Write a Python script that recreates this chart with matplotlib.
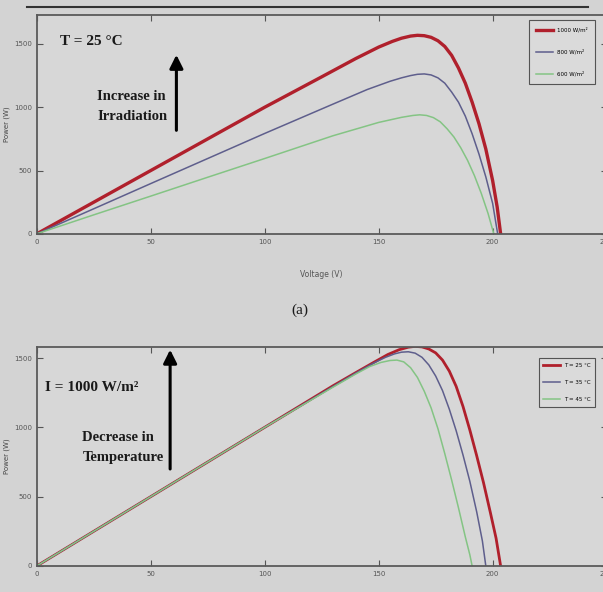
import matplotlib.pyplot as plt
from matplotlib.lines import Line2D

# (a) irradiation sweep at T = 25 C, voltage (V) and power (W) points
v_1000 = [0, 25, 50, 75, 100, 125, 140, 150, 156, 160, 164, 167, 170, 173, 176, 179, 182,
          185, 188, 191, 194, 197, 200, 202, 203.5]
p_1000 = [0, 250, 500, 750, 1000, 1240, 1385, 1475, 1520, 1545, 1562, 1568, 1565, 1552, 1525,
          1480, 1410, 1310, 1190, 1040, 870, 670, 420, 210, 0]
v_800 = [0, 25, 50, 75, 100, 130, 145, 155, 160, 164, 167, 170, 173, 176, 179, 182, 185,
         188, 191, 194, 197, 200, 202.2]
p_800 = [0, 198, 397, 595, 793, 1025, 1140, 1205, 1232, 1250, 1260, 1263, 1255, 1232, 1190,
         1120, 1040, 930, 790, 630, 450, 240, 0]
v_600 = [0, 25, 50, 75, 100, 130, 150, 160, 165, 168, 171, 174, 177, 180, 183, 186, 189,
         192, 195, 198, 200.5]
p_600 = [0, 150, 298, 447, 595, 775, 880, 920, 935, 940, 935, 918, 885, 830, 765, 680, 580,
         460, 320, 160, 0]

# (b) temperature sweep at I = 1000 W/m2
v_25 = [0, 50, 100, 130, 140, 148, 154, 159, 163, 166, 169, 172, 175, 178, 181, 184, 187,
        190, 193, 196, 199, 201.5, 203.5]
p_25 = [0, 500, 1000, 1300, 1395, 1470, 1525, 1560, 1578, 1584, 1580, 1565, 1537, 1485, 1405,
        1295, 1150, 980, 795, 600, 385, 200, 0]
v_35 = [0, 50, 100, 130, 140, 148, 153, 157, 160, 163, 166, 169, 172, 175, 178, 181, 184,
        187, 190, 193, 195.5, 197]
p_35 = [0, 500, 1000, 1295, 1392, 1465, 1505, 1530, 1542, 1545, 1535, 1505, 1450, 1370, 1265,
        1130, 975, 800, 610, 390, 180, 0]
v_45 = [0, 50, 100, 130, 140, 146, 151, 155, 158, 161, 164, 167, 170, 173, 176, 179, 182,
        185, 188, 190, 191]
p_45 = [0, 500, 1000, 1290, 1385, 1438, 1468, 1482, 1485, 1472, 1430, 1360, 1260, 1140, 990,
        810, 620, 420, 210, 80, 0]

labels_a = ['1000 W/m\u00b2', '800 W/m\u00b2', '600 W/m\u00b2']
labels_b = ['T = 25 \u00b0C', 'T = 35 \u00b0C', 'T = 45 \u00b0C']

red = '#b0202c'
blue = '#5e5e8c'
green = '#84c484'
bg = '#d3d3d3'
serif = 'Liberation Serif'

fig = plt.figure(figsize=(6.03, 5.92), dpi=100, facecolor=bg)
ax1 = fig.add_axes([0.061, 0.605, 0.945, 0.370])
ax2 = fig.add_axes([0.061, 0.044, 0.945, 0.370])


def style_axes(ax, ytop):
    ax.set_facecolor('#d7d7d7')
    ax.set_xlim(0, 250)
    ax.set_ylim(0, ytop)
    ax.set_xticks([0, 50, 100, 150, 200, 250])
    ax.set_yticks([0, 500, 1000, 1500])
    ax.tick_params(direction='in', top=True, right=True, labelsize=5,
                   colors='#555555', length=4, width=0.8)
    for s in ax.spines.values():
        s.set_color('#5a5a5a')
        s.set_linewidth(1.3)
    ax.set_ylabel('Power (W)', fontsize=5, color='#444444', labelpad=3)


def add_legend(ax, anchor, spacing, pad):
    leg = ax.legend(loc='upper right', fontsize=4, frameon=True, fancybox=False,
                    edgecolor='#333333', facecolor='#dcdcdc', handlelength=3,
                    bbox_to_anchor=anchor, labelspacing=spacing, borderpad=pad)
    leg.get_frame().set_linewidth(0.8)


style_axes(ax1, 1730)
ax1.plot(v_1000, p_1000, color=red, lw=2.4, label=labels_a[0])
ax1.plot(v_800, p_800, color=blue, lw=1.1, label=labels_a[1])
ax1.plot(v_600, p_600, color=green, lw=1.1, label=labels_a[2])
ax1.set_xlabel('Voltage (V)', fontsize=5.5, color='#555555', labelpad=18)
add_legend(ax1, (0.985, 0.99), 3.0, 1.3)

ax1.text(0.04, 0.86, 'T = 25 \u00b0C', transform=ax1.transAxes, family=serif,
         fontweight='bold', fontsize=11, color='#1a1a1a')
ax1.text(0.106, 0.52, 'Increase in\nIrradiation', transform=ax1.transAxes,
         family=serif, fontweight='bold', fontsize=10.5, color='#1a1a1a',
         linespacing=1.7)
ax1.annotate('', xy=(0.245, 0.83), xytext=(0.245, 0.46), xycoords='axes fraction',
             arrowprops=dict(arrowstyle='-|>,head_width=0.4,head_length=0.8',
                             color='black', lw=2.2))

style_axes(ax2, 1580)
ax2.plot(v_25, p_25, color=red, lw=2.0, label=labels_b[0])
ax2.plot(v_35, p_35, color=blue, lw=1.1, label=labels_b[1])
ax2.plot(v_45, p_45, color=green, lw=1.1, label=labels_b[2])
add_legend(ax2, (0.985, 0.96), 2.2, 0.8)

ax2.text(0.015, 0.80, 'I = 1000 W/m\u00b2', transform=ax2.transAxes, family=serif,
         fontweight='bold', fontsize=11, color='#1a1a1a')
ax2.text(0.08, 0.48, 'Decrease in\nTemperature', transform=ax2.transAxes,
         family=serif, fontweight='bold', fontsize=10.5, color='#1a1a1a',
         linespacing=1.7)
ax2.annotate('', xy=(0.234, 1.0), xytext=(0.234, 0.43), xycoords='axes fraction',
             arrowprops=dict(arrowstyle='-|>,head_width=0.4,head_length=0.8',
                             color='black', lw=2.2), annotation_clip=False)

fig.text(0.498, 0.476, '(a)', family=serif, fontsize=11, color='#1a1a1a',
         ha='center', va='center')

# dark window edge across the top of the screenshot
fig.add_artist(Line2D([0.045, 0.975], [0.988, 0.988], color='#333333', lw=1.5))

fig.savefig('out.png', dpi=100, facecolor=bg)
